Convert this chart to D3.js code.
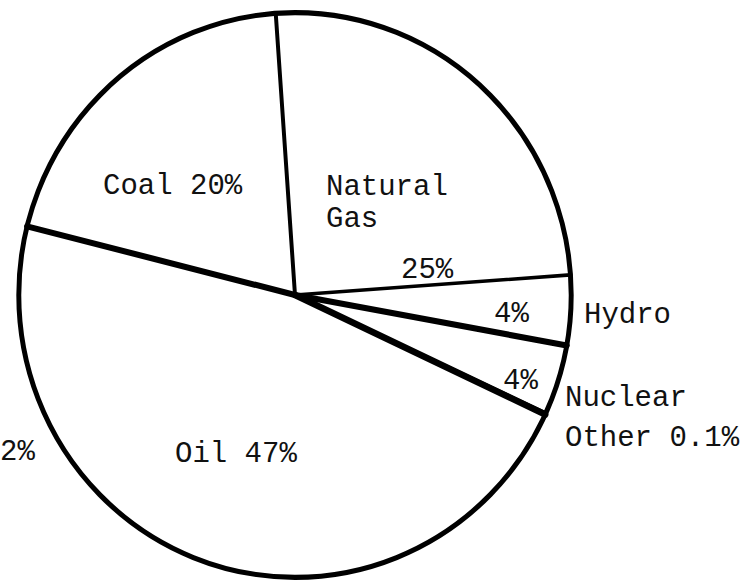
<!DOCTYPE html>
<html>
<head>
<meta charset="utf-8">
<script src="https://cdn.jsdelivr.net/npm/d3@7"></script>
<style>
  body { margin: 0; background: #fff; }
  svg text { font-family: "Liberation Mono", "DejaVu Sans Mono", monospace; font-size: 29px; fill: #111; }
</style>
</head>
<body>
<svg id="energy" width="752" height="586"></svg>
<script>
// sources, clockwise from the top
var sources = ["Natural Gas", "Hydro", "Nuclear", "Other", "Oil", "Coal"];
var shares  = [25, 4, 4, 0.1, 47, 20];
// pen weight of the line that starts each wedge
var edgeWidth = [4, 3.5, 6, 3, 6.5, 6];

var svg = d3.select("svg#energy"),
    cx = 295, cy = 295, r = 279;

var data = sources.map(function(s, i) { return {source: s, value: shares[i], w: edgeWidth[i]}; });

var start = -4 * Math.PI / 180;
var pie = d3.pie()
    .sort(null)
    .value(function(d) { return d.value; })
    .startAngle(start)
    .endAngle(start + 2 * Math.PI);

var arcs = pie(data);
var arc = d3.arc().innerRadius(0).outerRadius(r);

var g = svg.append("g")
    .attr("transform", "translate(" + cx + "," + cy + ") scale(0.99,1.012)");

g.selectAll("path.slice")
  .data(arcs)
  .enter().append("path")
    .attr("class", "slice")
    .attr("d", arc)
    .attr("fill", "#fff");

// wedge edges
g.selectAll("line.edge")
  .data(arcs)
  .enter().append("line")
    .attr("class", "edge")
    .attr("x1", 0).attr("y1", 0)
    .attr("x2", function(d) { return d3.pointRadial(d.startAngle, r)[0]; })
    .attr("y2", function(d) { return d3.pointRadial(d.startAngle, r)[1]; })
    .attr("stroke", "#000")
    .attr("stroke-width", function(d) { return d.data.w; })
    .attr("stroke-linecap", "round");

// outer ring
g.append("circle")
    .attr("r", r)
    .attr("fill", "none")
    .attr("stroke", "#000")
    .attr("stroke-width", 5);

// labels, placed as on the original sheet
var labels = [
  {t: "Coal 20%",   x: 103, y: 194},
  {t: "Natural",    x: 326, y: 195},
  {t: "Gas",        x: 326, y: 227},
  {t: "25%",        x: 401, y: 278},
  {t: "4%",         x: 494, y: 322},
  {t: "Hydro",      x: 584, y: 323},
  {t: "4%",         x: 503, y: 389},
  {t: "Nuclear",    x: 565, y: 406},
  {t: "Other 0.1%", x: 565, y: 446},
  {t: "Oil 47%",    x: 175, y: 462},
  {t: "2%",         x: 0,   y: 460}
];

svg.selectAll("text.lbl")
  .data(labels)
  .enter().append("text")
    .attr("class", "lbl")
    .attr("x", function(d) { return d.x; })
    .attr("y", function(d) { return d.y; })
    .attr("text-anchor", "start")
    .text(function(d) { return d.t; });
</script>
</body>
</html>
